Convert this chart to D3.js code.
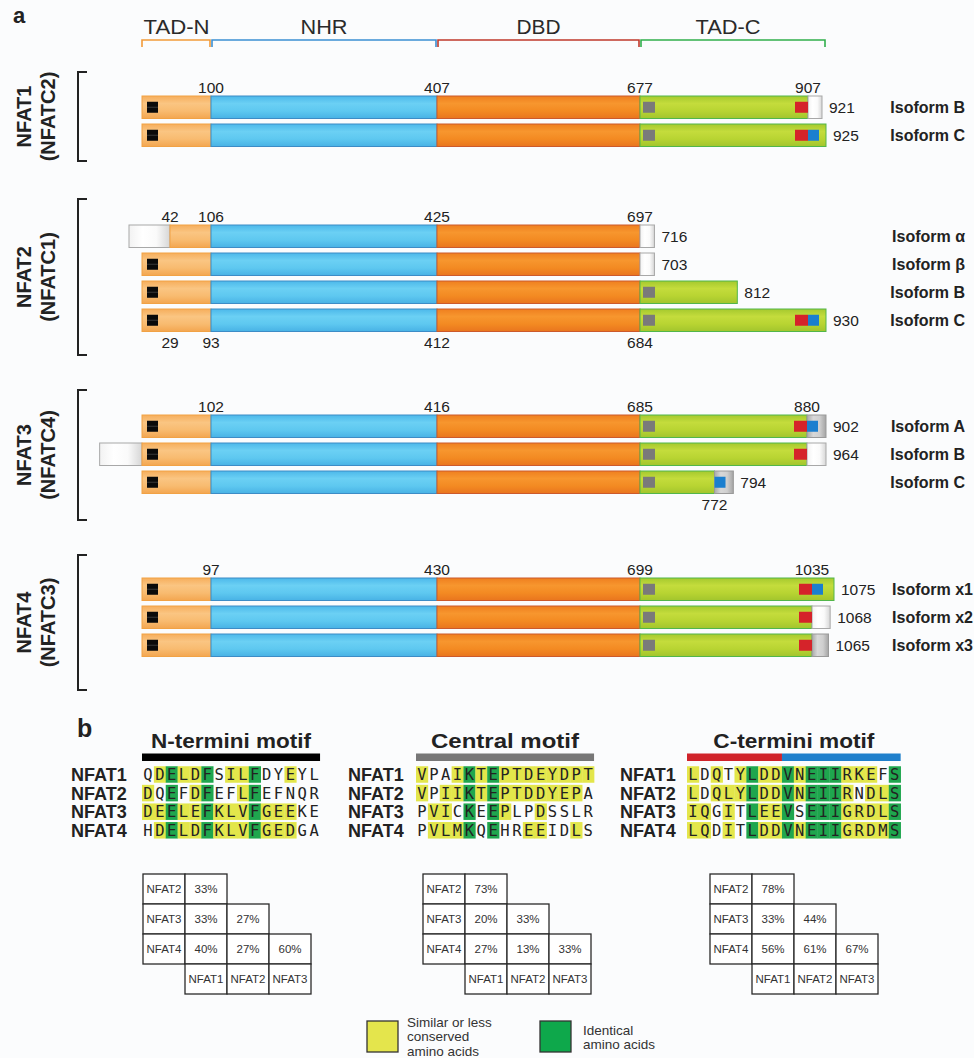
<!DOCTYPE html>
<html><head><meta charset="utf-8">
<script src="https://cdn.jsdelivr.net/npm/d3@7"></script>
<style>body{margin:0;background:#fbfcfd}svg{display:block;font-family:Arial,"Liberation Sans",sans-serif}</style>
</head><body><svg id="c" width="974" height="1058"></svg>
<script>
// ================= DATA =================
const domainNames = ["TAD-N", "NHR", "DBD", "TAD-C"];
const groupNames = ["NFAT1", "NFAT2", "NFAT3", "NFAT4"];
const groupAliases = ["(NFATC2)", "(NFATC1)", "(NFATC4)", "(NFATC3)"];
// domain boundaries (reference numbering of each group)
const nhrStart = [100, 93, 102, 97];
const dbdStart = [407, 412, 416, 430];
const tadcStart = [677, 684, 685, 699];
const cMotifSplit = [907, 905, 880, 1035];
const refEnd = [925, 930, 902, 1075];
const altJunction = [null, 29, null, null];

const isoNames = [["Isoform B", "Isoform C"], ["Isoform α", "Isoform β", "Isoform B", "Isoform C"], ["Isoform A", "Isoform B", "Isoform C"], ["Isoform x1", "Isoform x2", "Isoform x3"]];
const isoLength = [[921, 925], [716, 703, 812, 930], [902, 964, 794], [1075, 1068, 1065]];
const isoOffset = [[0, 0], [13, 0, 0, 0], [0, 62, 0], [0, 0, 0]];
const isoJunction = [[null, null], [42, null, null, null], [null, 63, null], [null, null, null]];
const isoCoreEnd = [[907, 925], [697, 684, 812, 930], [880, 942, 772], [1075, 1035, 1035]];
const isoTail = [["white", "none"], ["white", "white", "none", "none"], ["gray", "white", "gray"], ["none", "white", "gray"]];
const isoNMotif = [[1, 1], [0, 1, 1, 1], [1, 1, 1], [1, 1, 1]];
const isoCentralMotif = [[1, 1], [0, 0, 1, 1], [1, 1, 1], [1, 1, 1]];
const isoRedAt = [[907, 907], [null, null, null, 905], [880, 942, null], [1035, 1035, 1035]];
const isoBlueAt = [[null, 907], [null, null, null, 905], [880, null, 772], [1035, null, null]];
const topLabels = [[100, 407, 677, 907], [42, 106, 425, 697], [102, 416, 685, 880], [97, 430, 699, 1035]];
const bottomLabels = [[], [29, 93, 412, 684], [772], []];

// panel b
const motifTitles = ["N-termini motif", "Central motif", "C-termini motif"];
const seqNames = ["NFAT1", "NFAT2", "NFAT3", "NFAT4"];
const nTermSeq = ["QDELDFSILFDYEYL", "DQEFDFEFLFEFNQR", "DEELEFKLVFGEEKE", "HDELDFKLVFGEDGA"];
const nTermMarks = [".ygyyg.yyg..y..", "y.g.yg..yg.....", "yygyygyyygyyy..", ".ygyygyyygyyy.."];
const centralSeq = ["VPAIKTEPTDEYDPT", "VPIIKTEPTDDYEPA", "PVICKEEPLPDSSLR", "PVLMKQEHREEIDLS"];
const centralMarks = ["y..ygygyyyyyyyy", "y.yygygyyyyyyy.", ".yy.g.gy..y....", ".yyyg.g..yy..y."];
const cTermSeq = ["LDQTYLDDVNEIIRKEFS", "LDQLYLDDVNEIIRNDLS", "IQGITLEEVSEIIGRDLS", "LQDITLDDVNEIIGRDMS"];
const cTermMarks = ["y.y.ygyygygggyyy.g", "y.yyygyygygggy.yyg", "yy.y.gyyg.gggyyyyg", "yy.y.gyygygggyyyyg"];
const cTermRedResidues = 8;
const identityN = [[33], [33, 27], [40, 27, 60]];
const identityCentral = [[73], [20, 33], [27, 13, 33]];
const identityC = [[78], [33, 44], [56, 61, 67]];
const tableRowNames = ["NFAT2", "NFAT3", "NFAT4"];
const tableColNames = ["NFAT1", "NFAT2", "NFAT3"];
const legendLabels = [["Similar or less", "conserved", "amino acids"], ["Identical", "amino acids"]];

// ================= LAYOUT =================
const svg = d3.select("#c");
svg.append("rect").attr("width", 974).attr("height", 1058).attr("fill", "#fbfcfd");
const defs = svg.append("defs");
const X = {start: 142, alt: 170, nhr: 211, dbd: 437, tadc: 640, end: 826};
const splitPx = [808, 808, 807, 812];
const endPx = [826, 826, 826, 834];
const groupTop = [96, 225, 415, 578];
const rowStep = 28, barH = 22.5;
const brackets = [[72, 161], [199, 355], [390, 520], [555, 690]];
const nameRight = [965, 965, 965, 973];

function grad(id, stops, horizontal) {
  const g = defs.append("linearGradient").attr("id", id)
    .attr("x1", 0).attr("y1", 0).attr("x2", horizontal ? 1 : 0).attr("y2", horizontal ? 0 : 1);
  stops.forEach((c, i) => g.append("stop").attr("offset", i / (stops.length - 1)).attr("stop-color", c));
}
const style = {
  tadn: {stroke: "#F1A245"}, nhr: {stroke: "#3D8CC6"}, dbd: {stroke: "#CC5A2C"},
  tadc: {stroke: "#52B64A"}, white: {stroke: "#A8A8A8"}, gray: {stroke: "#9A9A9A"}
};
grad("g-tadn", ["#F6AE5C", "#FAC582", "#F8BB70", "#F3A650"]);
grad("g-nhr", ["#4CB8EA", "#6BD0F4", "#5EC8F0", "#48B2E5"]);
grad("g-dbd", ["#EF7F1F", "#F7962E", "#F38A22", "#E9751E"]);
grad("g-tadc", ["#A5C92E", "#C4DC3C", "#B8D432", "#A2C52D"]);
grad("g-white", ["#F2F2F2", "#FFFFFF", "#FAFAFA", "#D6D6D6"], true);
grad("g-gray", ["#A9A9A9", "#D8D8D8", "#CFCFCF", "#A4A4A4"], true);

// ---- panel a header ----
svg.append("text").attr("x", 13).attr("y", 23).attr("font-size", 22).attr("font-weight", "bold").attr("fill", "#222").text("a");
const headerSpans = [[X.start, X.nhr], [X.nhr, X.dbd], [X.dbd, X.tadc], [X.tadc, X.end]];
const headerColors = ["#F29A38", "#3B8ED2", "#C0392B", "#30AE4B"];
const headerWidths = [66, 47, 44, 65];
domainNames.forEach((d, i) => {
  const [a, b] = headerSpans[i];
  const x0 = a + (i ? 1 : 0), x1 = b - 1;
  svg.append("path").attr("d", `M${x0},47V40H${x1}V47`).attr("fill", "none")
    .attr("stroke", headerColors[i]).attr("stroke-width", 1.6);
  svg.append("text").attr("x", (a + b) / 2 - (i === 3 ? 5 : 0)).attr("y", 33.5).attr("text-anchor", "middle")
    .attr("font-size", 20.5).attr("fill", "#2a2a2a")
    .attr("textLength", headerWidths[i]).attr("lengthAdjust", "spacingAndGlyphs").text(d);
});

// ---- groups ----
groupNames.forEach((gname, g) => {
  const xs = (() => {
    const dom = [1], rng = [X.start];
    if (altJunction[g] != null) { dom.push(altJunction[g]); rng.push(X.alt); }
    dom.push(nhrStart[g], dbdStart[g], tadcStart[g], cMotifSplit[g], refEnd[g]);
    rng.push(X.nhr, X.dbd, X.tadc, splitPx[g], endPx[g]);
    return d3.scaleLinear().domain(dom).range(rng);
  })();
  const nIso = isoNames[g].length;
  const yRow = i => groupTop[g] + i * rowStep;

  // bracket + rotated labels
  const [bt, bb] = brackets[g];
  svg.append("path").attr("d", `M87,${bt}H78V${bb}H87`).attr("fill", "none").attr("stroke", "#222").attr("stroke-width", 2);
  const ymid = (bt + bb) / 2;
  svg.append("text").attr("transform", `translate(31,${ymid}) rotate(-90)`).attr("text-anchor", "middle")
    .attr("font-size", 20).attr("font-weight", "bold").attr("fill", "#222").text(gname);
  svg.append("text").attr("transform", `translate(55,${ymid}) rotate(-90)`).attr("text-anchor", "middle")
    .attr("font-size", 20).attr("font-weight", "bold").attr("fill", "#222").text(groupAliases[g]);

  for (let i = 0; i < nIso; i++) {
    const off = isoOffset[g][i];
    const ref = v => v - off;
    const y = yRow(i);
    const segs = [];
    let tadnFrom = ref(1);
    if (isoJunction[g][i] != null) {
      segs.push({t: "white", a: ref(1), b: ref(isoJunction[g][i])});
      tadnFrom = ref(isoJunction[g][i]);
    }
    segs.push({t: "tadn", a: tadnFrom, b: nhrStart[g]});
    segs.push({t: "nhr", a: nhrStart[g], b: dbdStart[g]});
    segs.push({t: "dbd", a: dbdStart[g], b: tadcStart[g]});
    const core = ref(isoCoreEnd[g][i]);
    if (core > tadcStart[g]) segs.push({t: "tadc", a: tadcStart[g], b: core});
    if (isoTail[g][i] !== "none") segs.push({t: isoTail[g][i], a: Math.max(core, tadcStart[g]), b: ref(isoLength[g][i])});

    const row = svg.append("g");
    row.selectAll("rect.seg").data(segs).join("rect").attr("class", "seg")
      .attr("x", d => xs(d.a)).attr("y", y).attr("width", d => xs(d.b) - xs(d.a)).attr("height", barH)
      .attr("fill", d => `url(#g-${d.t})`).attr("stroke", d => style[d.t].stroke).attr("stroke-width", 1);

    const cy = y + barH / 2;
    if (isoNMotif[g][i]) {
      row.append("rect").attr("x", xs(1) + 5).attr("y", cy - 5.5).attr("width", 11).attr("height", 11).attr("fill", "#0a0a0a");
      row.append("line").attr("x1", xs(1) + 5).attr("x2", xs(1) + 16).attr("y1", cy).attr("y2", cy).attr("stroke", "#444").attr("stroke-width", 0.8);
    }
    if (isoCentralMotif[g][i]) {
      row.append("rect").attr("x", xs(tadcStart[g]) + 3).attr("y", cy - 5.5).attr("width", 12).attr("height", 11).attr("fill", "#7a7a7a");
    }
    if (isoRedAt[g][i] != null) {
      const xr = xs(ref(isoRedAt[g][i]));
      row.append("rect").attr("x", xr - 13).attr("y", cy - 5.5).attr("width", 13).attr("height", 11).attr("fill", "#D5232A");
    }
    if (isoBlueAt[g][i] != null) {
      const xb = xs(ref(isoBlueAt[g][i]));
      row.append("rect").attr("x", xb).attr("y", cy - 5.5).attr("width", 11).attr("height", 11).attr("fill", "#1B7FCF");
    }
    // end label
    const xe = xs(ref(isoLength[g][i]));
    row.append("text").attr("x", xe + 7).attr("y", cy + 5.5).attr("font-size", 15.5).attr("fill", "#222").text(isoLength[g][i]);
    row.append("text").attr("x", nameRight[g]).attr("y", cy + 6).attr("text-anchor", "end")
      .attr("font-size", 16).attr("font-weight", "bold").attr("fill", "#222").text(isoNames[g][i]);
  }
  // position labels
  topLabels[g].forEach(v => {
    svg.append("text").attr("x", xs(v - isoOffset[g][0])).attr("y", yRow(0) - 3).attr("text-anchor", "middle")
      .attr("font-size", 15.5).attr("fill", "#222").text(v);
  });
  bottomLabels[g].forEach(v => {
    svg.append("text").attr("x", xs(v - isoOffset[g][nIso - 1])).attr("y", yRow(nIso - 1) + barH + 16).attr("text-anchor", "middle")
      .attr("font-size", 15.5).attr("fill", "#222").text(v);
  });
});

// ---- panel b ----
svg.append("text").attr("x", 77).attr("y", 737).attr("font-size", 25).attr("font-weight", "bold").attr("fill", "#222").text("b");
const cellW = 11.87, rowY0 = 774.5, rowDY = 18.6, hlH = 16.5;
const motifX = [142, 416, 687];
const nameX = [71, 348, 620];
const titleW = [160, 148, 161];
const seqSets = [[nTermSeq, nTermMarks], [centralSeq, centralMarks], [cTermSeq, cTermMarks]];
const hlColor = {y: "#E3E64B", g: "#1FA64E"};
seqSets.forEach(([seqs, marks], m) => {
  const n = seqs[0].length;
  const xc = d3.scaleLinear().domain([0, n]).range([motifX[m], motifX[m] + n * cellW]);
  svg.append("text").attr("x", (xc(0) + xc(n)) / 2).attr("y", 748).attr("text-anchor", "middle")
    .attr("font-size", 21).attr("font-weight", "bold").attr("fill", "#222")
    .attr("textLength", titleW[m]).attr("lengthAdjust", "spacingAndGlyphs").text(motifTitles[m]);
  if (m === 0) svg.append("rect").attr("x", xc(0)).attr("y", 753.5).attr("width", xc(n) - xc(0)).attr("height", 7.5).attr("fill", "#000");
  if (m === 1) svg.append("rect").attr("x", xc(0)).attr("y", 753.5).attr("width", xc(n) - xc(0)).attr("height", 7.5).attr("fill", "#777");
  if (m === 2) {
    svg.append("rect").attr("x", xc(0)).attr("y", 753.5).attr("width", xc(cTermRedResidues) - xc(0)).attr("height", 7.5).attr("fill", "#D0232A");
    svg.append("rect").attr("x", xc(cTermRedResidues)).attr("y", 753.5).attr("width", xc(n) - xc(cTermRedResidues)).attr("height", 7.5).attr("fill", "#1F80CC");
  }
  seqs.forEach((s, r) => {
    const cy = rowY0 + r * rowDY;
    svg.append("text").attr("x", nameX[m]).attr("y", cy + 6.5).attr("font-size", 18).attr("font-weight", "bold").attr("fill", "#222").text(seqNames[r]);
    const cells = s.split("").map((ch, k) => ({ch, k, mk: marks[r][k]}));
    svg.selectAll(null).data(cells.filter(c => c.mk !== ".")).join("rect")
      .attr("x", c => xc(c.k)).attr("y", cy - hlH / 2).attr("width", cellW + 0.3).attr("height", hlH)
      .attr("fill", c => hlColor[c.mk]);
    svg.selectAll(null).data(cells).join("text")
      .attr("x", c => xc(c.k + 0.5)).attr("y", cy + 5.5).attr("text-anchor", "middle")
      .attr("font-family", "'DejaVu Sans Mono', monospace").attr("font-size", 15.5).attr("fill", "#222").text(c => c.ch);
  });
});

// tables
const tblX = [143, 423, 710], tblY = 874, cw = 42, ch = 30;
[identityN, identityCentral, identityC].forEach((vals, t) => {
  const g = svg.append("g");
  const cells = [];
  vals.forEach((row, r) => {
    cells.push({c: 0, r, txt: tableRowNames[r]});
    row.forEach((v, k) => cells.push({c: k + 1, r, txt: v + "%"}));
  });
  tableColNames.forEach((nm, k) => cells.push({c: k + 1, r: 3, txt: nm}));
  g.selectAll("rect").data(cells).join("rect")
    .attr("x", d => tblX[t] + d.c * cw).attr("y", d => tblY + d.r * ch).attr("width", cw).attr("height", ch)
    .attr("fill", "#fff").attr("stroke", "#2a2a2a").attr("stroke-width", 1.3);
  g.selectAll("text").data(cells).join("text")
    .attr("x", d => tblX[t] + d.c * cw + cw / 2).attr("y", d => tblY + d.r * ch + ch / 2 + 4)
    .attr("text-anchor", "middle").attr("font-size", 11.5).attr("fill", "#333").text(d => d.txt);
});

// legend
const legX = [367, 540], legTextX = [407, 583], legColors = ["#E4E54C", "#0EA84B"];
legendLabels.forEach((lines, i) => {
  svg.append("rect").attr("x", legX[i]).attr("y", 1021).attr("width", 31).attr("height", 31)
    .attr("fill", legColors[i]).attr("stroke", "#333").attr("stroke-width", 1.3);
  const y0 = i === 0 ? 1026.5 : 1034.5;
  lines.forEach((ln, k) => svg.append("text").attr("x", legTextX[i]).attr("y", y0 + k * 14.5)
    .attr("font-size", 13.5).attr("fill", "#333").text(ln));
});
</script></body></html>
